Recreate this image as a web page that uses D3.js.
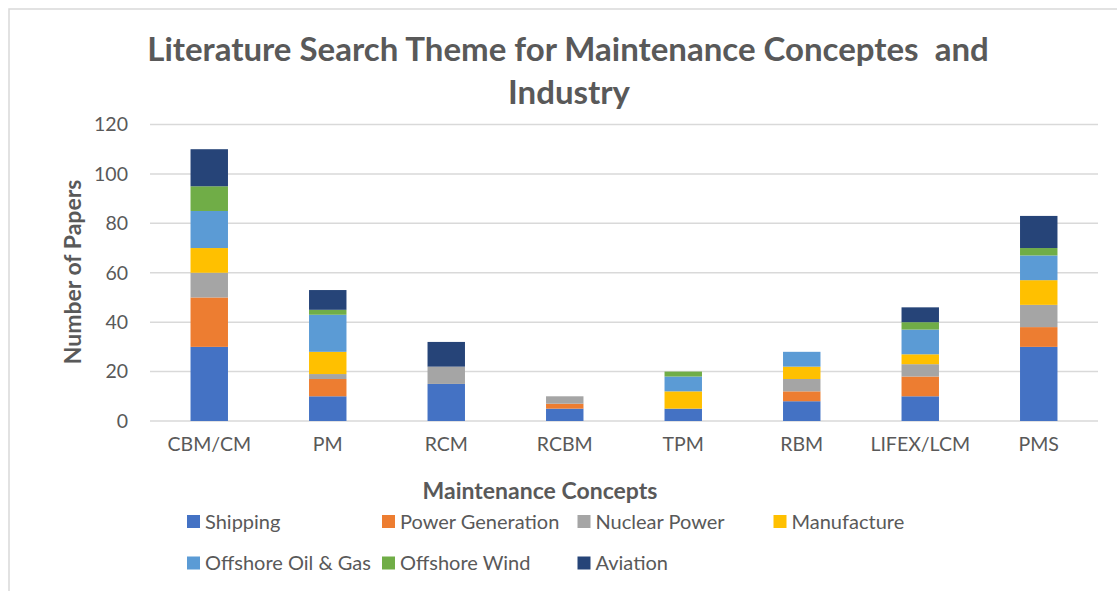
<!DOCTYPE html>
<html>
<head>
<meta charset="utf-8">
<script src="https://cdn.jsdelivr.net/npm/d3@7"></script>
<style>
  html, body { margin: 0; padding: 0; background: #fff; }
  svg { display: block; }
  text { font-family: Lato, "Open Sans", sans-serif; fill: #595959; }
</style>
</head>
<body>
<svg id="chart" width="1117" height="591"></svg>
<script>
// Maintenance concepts on the x axis
const categories = ["CBM/CM", "PM", "RCM", "RCBM", "TPM", "RBM", "LIFEX/LCM", "PMS"];

// Papers per industry for each concept
const shipping        = [30, 10, 15, 5, 5, 8, 10, 30];
const powerGeneration = [20,  7,  0, 2, 0, 4,  8,  8];
const nuclearPower    = [10,  2,  7, 3, 0, 5,  5,  9];
const manufacture     = [10,  9,  0, 0, 7, 5,  4, 10];
const offshoreOilGas  = [15, 15,  0, 0, 6, 6, 10, 10];
const offshoreWind    = [10,  2,  0, 0, 2, 0,  3,  3];
const aviation        = [15,  8, 10, 0, 0, 0,  6, 13];

const seriesNames  = ["Shipping", "Power Generation", "Nuclear Power", "Manufacture",
                      "Offshore Oil & Gas", "Offshore Wind", "Aviation"];
const seriesValues = [shipping, powerGeneration, nuclearPower, manufacture,
                      offshoreOilGas, offshoreWind, aviation];
const seriesColors = ["#4472C4", "#ED7D31", "#A5A5A5", "#FFC000", "#5B9BD5", "#70AD47", "#264478"];

const yTicks = [0, 20, 40, 60, 80, 100, 120];

const svg = d3.select("#chart");

// chart frame
svg.append("rect")
  .attr("x", 9).attr("y", 9)
  .attr("width", 1140).attr("height", 620)
  .attr("fill", "none")
  .attr("stroke", "#d9d9d9")
  .attr("stroke-width", 1.5);

const plot = { left: 150, right: 1098, top: 124.5, bottom: 421 };

const x = d3.scaleBand()
  .domain(categories)
  .range([plot.left, plot.right])
  .paddingInner(0.684)
  .paddingOuter(0.342);

const y = d3.scaleLinear()
  .domain([0, 120])
  .range([plot.bottom, plot.top]);

// gridlines
svg.append("g")
  .selectAll("line")
  .data(yTicks)
  .join("line")
  .attr("x1", plot.left).attr("x2", plot.right)
  .attr("y1", d => y(d)).attr("y2", d => y(d))
  .attr("stroke", "#d9d9d9")
  .attr("stroke-width", 1.5);

// stacked bars
const rows = categories.map((c, i) => {
  const r = { category: c };
  seriesNames.forEach((s, j) => { r[s] = seriesValues[j][i]; });
  return r;
});
const stacked = d3.stack().keys(seriesNames)(rows);
const color = d3.scaleOrdinal().domain(seriesNames).range(seriesColors);

svg.append("g")
  .selectAll("g")
  .data(stacked)
  .join("g")
  .attr("fill", d => color(d.key))
  .selectAll("rect")
  .data(d => d.filter(p => p[1] > p[0]))
  .join("rect")
  .attr("x", d => x(d.data.category))
  .attr("width", x.bandwidth())
  .attr("y", d => y(d[1]))
  .attr("height", d => y(d[0]) - y(d[1]));

// y axis labels
const yAxis = svg.append("g")
  .attr("transform", `translate(${plot.left - 22},0)`)
  .call(d3.axisLeft(y).tickValues(yTicks).tickSize(0).tickPadding(0));
yAxis.select(".domain").remove();
yAxis.selectAll("text")
  .style("font-family", "Lato, sans-serif")
  .style("font-size", "19.5px")
  .attr("fill", "#595959");

// x axis labels
const xAxis = svg.append("g")
  .attr("transform", `translate(0,${plot.bottom})`)
  .call(d3.axisBottom(x).tickSize(0).tickPadding(16));
xAxis.select(".domain").remove();
xAxis.selectAll("text")
  .style("font-family", "Lato, sans-serif")
  .style("font-size", "19.5px")
  .attr("fill", "#595959");

// title
const title = svg.append("text")
  .attr("text-anchor", "middle")
  .style("font-size", "33px")
  .style("font-weight", "bold");
title.append("tspan").attr("x", 568).attr("y", 61)
  .text("Literature Search Theme for Maintenance Conceptes\u00a0 and");
title.append("tspan").attr("x", 569).attr("y", 104).text("Industry");

// axis titles
svg.append("text")
  .attr("transform", "translate(81,272) rotate(-90)")
  .attr("text-anchor", "middle")
  .style("font-size", "23px")
  .style("font-weight", "bold")
  .text("Number of Papers");

svg.append("text")
  .attr("x", 540).attr("y", 499)
  .attr("text-anchor", "middle")
  .style("font-size", "23px")
  .style("font-weight", "bold")
  .text("Maintenance Concepts");

// legend: four entries on the first row, three on the second
const legendX = [187, 382, 577.5, 773.5];
const legendY = [521.5, 563];
const legend = svg.append("g")
  .selectAll("g")
  .data(seriesNames)
  .join("g")
  .attr("transform", (d, i) => `translate(${legendX[i % 4]},${legendY[Math.floor(i / 4)]})`);
legend.append("rect")
  .attr("x", 0).attr("y", -6.5)
  .attr("width", 13).attr("height", 13)
  .attr("fill", d => color(d));
legend.append("text")
  .attr("x", 18).attr("y", 0)
  .attr("dy", "0.35em")
  .style("font-size", "20px")
  .text(d => d);
</script>
</body>
</html>
